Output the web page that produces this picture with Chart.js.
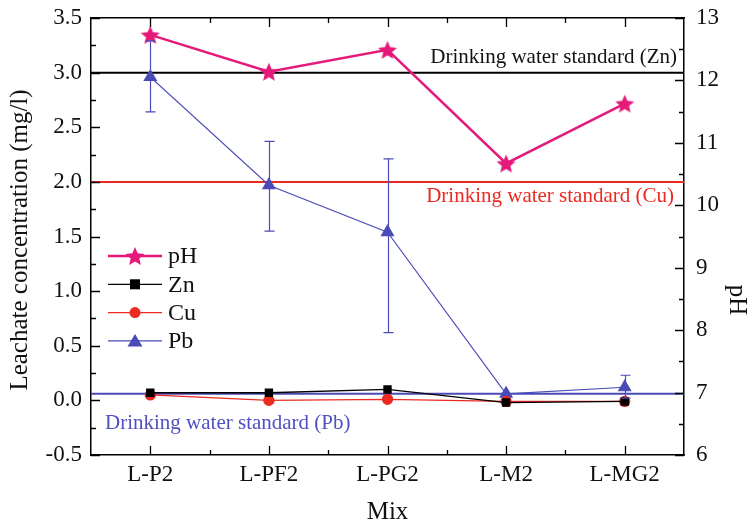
<!DOCTYPE html>
<html>
<head>
<meta charset="utf-8">
<script src="https://cdn.jsdelivr.net/npm/chart.js@4.4.0/dist/chart.umd.min.js"></script>
<style>
  html, body { margin: 0; padding: 0; background: #fff; overflow: hidden; }
  canvas { display: block; }
</style>
</head>
<body>
<canvas id="chart" width="752" height="529"></canvas>
<script>
// data
const categories = ['L-P2', 'L-PF2', 'L-PG2', 'L-M2', 'L-MG2'];
const phValues = [12.73, 12.14, 12.49, 10.67, 11.63];
const znValues = [0.07, 0.07, 0.10, -0.02, -0.01];
const cuValues = [0.05, 0.00, 0.01, -0.01, -0.01];
const pbValues = [2.96, 1.97, 1.54, 0.06, 0.12];
const pbHigh = [3.29, 2.37, 2.21, 0.07, 0.23];
const pbLow = [2.64, 1.55, 0.62, 0.05, 0.02];
const stdNames = ['Zn', 'Cu', 'Pb'];
const stdValues = [3.0, 2.0, 0.06];

const PINK = '#e5197a', RED = '#ec2a22', BLUE = '#4b4bb8';
const SERIF = '"Liberation Serif", "DejaVu Serif", serif';

function starImage(size, color) {
    const c = document.createElement('canvas');
    c.width = size; c.height = size;
    const g = c.getContext('2d');
    const r = size / 2, ri = r * 0.45;
    g.beginPath();
    for (let i = 0; i < 10; i++) {
        const rad = i % 2 ? ri : r;
        const ang = -Math.PI / 2 + i * Math.PI / 5;
        const px = r + rad * Math.cos(ang), py = r + 1 + rad * Math.sin(ang);
        i ? g.lineTo(px, py) : g.moveTo(px, py);
    }
    g.closePath();
    g.fillStyle = color;
    g.fill();
    return c;
}
const star = starImage(20, PINK);

const pts = vals => vals.map((v, i) => ({ x: i, y: v }));
const flat = v => [{ x: -0.5, y: v }, { x: categories.length - 0.5, y: v }];

// keep the plot box where it is in the figure
const noPad = s => { s.paddingTop = 0; s.paddingBottom = 0; };

const decor = {
    id: 'decor',
    afterDatasetsDraw(chart) {
        const { ctx, scales: { x, y } } = chart;
        ctx.save();
        ctx.strokeStyle = BLUE;
        ctx.lineWidth = 1.2;
        pbValues.forEach((v, i) => {
            const px = Math.round(x.getPixelForValue(i)) + 0.5;
            const yt = y.getPixelForValue(pbHigh[i]), yb = y.getPixelForValue(pbLow[i]);
            if (Math.abs(yb - yt) < 4) return;
            ctx.beginPath();
            ctx.moveTo(px, yt); ctx.lineTo(px, yb);
            ctx.moveTo(px - 5, yt); ctx.lineTo(px + 5, yt);
            ctx.moveTo(px - 5, yb); ctx.lineTo(px + 5, yb);
            ctx.stroke();
        });
        ctx.restore();
    },
    afterDraw(chart) {
        const { ctx, chartArea: a, scales: { x, y, y2 } } = chart;
        ctx.save();
        ctx.strokeStyle = '#000';
        ctx.lineWidth = 1.3;
        ctx.beginPath();
        // inward ticks, left and right
        for (let k = 0; k <= 16; k++) {
            const v = -0.5 + k * 0.25;
            const py = Math.round(y.getPixelForValue(v)) + 0.5;
            const len = k % 2 === 0 ? 9 : 5;
            ctx.moveTo(a.left, py); ctx.lineTo(a.left + len, py);
        }
        for (let k = 0; k <= 14; k++) {
            const v = 6 + k * 0.5;
            const py = Math.round(y2.getPixelForValue(v)) + 0.5;
            const len = k % 2 === 0 ? 9 : 5;
            ctx.moveTo(a.right, py); ctx.lineTo(a.right - len, py);
        }
        // bottom and top
        for (let k = 1; k < categories.length * 2; k++) {
            const v = -0.5 + k * 0.5;
            const px = Math.round(x.getPixelForValue(v)) + 0.5;
            const len = k % 2 === 1 ? 9 : 5;
            ctx.moveTo(px, a.bottom); ctx.lineTo(px, a.bottom - len);
            ctx.moveTo(px, a.top); ctx.lineTo(px, a.top + len);
        }
        ctx.stroke();

        // standard labels
        ctx.font = '21px ' + SERIF;
        ctx.textBaseline = 'middle';
        ctx.textAlign = 'right';
        ctx.fillStyle = '#111';
        ctx.fillText('Drinking water standard (' + stdNames[0] + ')', a.right - 7, y.getPixelForValue(stdValues[0]) - 15);
        ctx.fillStyle = RED;
        ctx.fillText('Drinking water standard (' + stdNames[1] + ')', a.right - 10, y.getPixelForValue(stdValues[1]) + 15);
        ctx.textAlign = 'left';
        ctx.fillStyle = '#5050c0';
        ctx.fillText('Drinking water standard (' + stdNames[2] + ')', a.left + 14, y.getPixelForValue(stdValues[2]) + 30);

        // legend
        const items = [
            { label: 'pH', color: PINK, shape: 'star', w: 2.5 },
            { label: 'Zn', color: '#000', shape: 'rect', w: 1.3 },
            { label: 'Cu', color: RED, shape: 'circle', w: 1.3 },
            { label: 'Pb', color: BLUE, shape: 'triangle', w: 1.3 }
        ];
        ctx.font = '24px ' + SERIF;
        items.forEach((it, i) => {
            const ly = 256 + i * 28.3, lx = 135;
            ctx.strokeStyle = it.color;
            ctx.fillStyle = it.color;
            ctx.lineWidth = it.w;
            ctx.beginPath();
            ctx.moveTo(108, ly); ctx.lineTo(162, ly);
            ctx.stroke();
            if (it.shape === 'star') ctx.drawImage(star, lx - star.width / 2, ly - star.height / 2);
            else if (it.shape === 'rect') ctx.fillRect(lx - 5, ly - 5, 10, 10);
            else if (it.shape === 'circle') { ctx.beginPath(); ctx.arc(lx, ly, 5.5, 0, Math.PI * 2); ctx.fill(); }
            else { ctx.beginPath(); ctx.moveTo(lx, ly - 7); ctx.lineTo(lx + 7.5, ly + 5.5); ctx.lineTo(lx - 7.5, ly + 5.5); ctx.closePath(); ctx.fill(); }
            ctx.fillStyle = '#111';
            ctx.fillText(it.label, 168, ly + 1);
        });

        // axis titles
        ctx.fillStyle = '#111';
        ctx.font = '25px ' + SERIF;
        ctx.textAlign = 'center';
        ctx.fillText('Mix', (a.left + a.right) / 2, 512);
        ctx.save();
        ctx.translate(20, 240);
        ctx.rotate(-Math.PI / 2);
        ctx.fillText('Leachate concentration (mg/l)', 0, 0);
        ctx.restore();
        ctx.save();
        ctx.translate(737, 300);
        ctx.rotate(Math.PI / 2);
        ctx.fillText('pH', 0, 0);
        ctx.restore();
        ctx.restore();
    }
};

const tickFont = { family: SERIF, size: 23 };
const axisBorder = { display: true, color: '#000', width: 1.5 };

new Chart(document.getElementById('chart'), {
    type: 'line',
    data: {
        datasets: [
            { label: 'pH', data: pts(phValues), yAxisID: 'y2', borderColor: PINK, borderWidth: 2.5,
              pointStyle: star, pointRadius: 10 },
            { label: 'Zn', data: pts(znValues), yAxisID: 'y', borderColor: '#000', backgroundColor: '#000',
              borderWidth: 1.3, pointStyle: 'rect', pointRadius: 5 },
            { label: 'Cu', data: pts(cuValues), yAxisID: 'y', borderColor: RED, backgroundColor: RED,
              borderWidth: 1.3, pointStyle: 'circle', pointRadius: 5 },
            { label: 'Pb', data: pts(pbValues), yAxisID: 'y', borderColor: BLUE, backgroundColor: BLUE,
              borderWidth: 1.1, pointStyle: 'triangle', pointRadius: 7 },
            { label: 'Zn std', data: flat(stdValues[0]), yAxisID: 'y', borderColor: '#000', borderWidth: 2, pointRadius: 0 },
            { label: 'Cu std', data: flat(stdValues[1]), yAxisID: 'y', borderColor: RED, borderWidth: 2, pointRadius: 0 },
            { label: 'Pb std', data: flat(stdValues[2]), yAxisID: 'y', borderColor: BLUE, borderWidth: 2, pointRadius: 0 }
        ]
    },
    options: {
        responsive: false,
        animation: false,
        layout: { padding: 0, autoPadding: false },
        plugins: { legend: { display: false }, tooltip: { enabled: false } },
        elements: { line: { tension: 0 }, point: { borderWidth: 0 } },
        scales: {
            x: {
                type: 'linear', position: 'bottom', min: -0.5, max: categories.length - 0.5,
                grid: { display: false, drawTicks: false }, border: axisBorder,
                ticks: { autoSkip: false, maxRotation: 0, padding: 6, color: '#111', font: tickFont,
                    callback: v => categories[v] },
                afterBuildTicks: s => { s.ticks = categories.map((c, i) => ({ value: i })); },
                afterFit: s => { s.height = 74; }
            },
            x2: {
                type: 'linear', position: 'top', min: -0.5, max: categories.length - 0.5,
                grid: { display: false, drawTicks: false }, border: axisBorder,
                ticks: { display: false },
                afterFit: s => { s.height = 18; }
            },
            y: {
                position: 'left', min: -0.5, max: 3.5,
                grid: { display: false, drawTicks: false }, border: axisBorder,
                ticks: { stepSize: 0.5, padding: 9, color: '#111', font: tickFont, callback: v => v.toFixed(1) },
                afterFit: s => { s.width = 91; noPad(s); }
            },
            y2: {
                position: 'right', min: 6, max: 13,
                grid: { display: false, drawTicks: false }, border: axisBorder,
                ticks: { stepSize: 1, padding: 12, color: '#111', font: tickFont },
                afterFit: s => { s.width = 68; noPad(s); }
            }
        }
    },
    plugins: [decor]
});
</script>
</body>
</html>
